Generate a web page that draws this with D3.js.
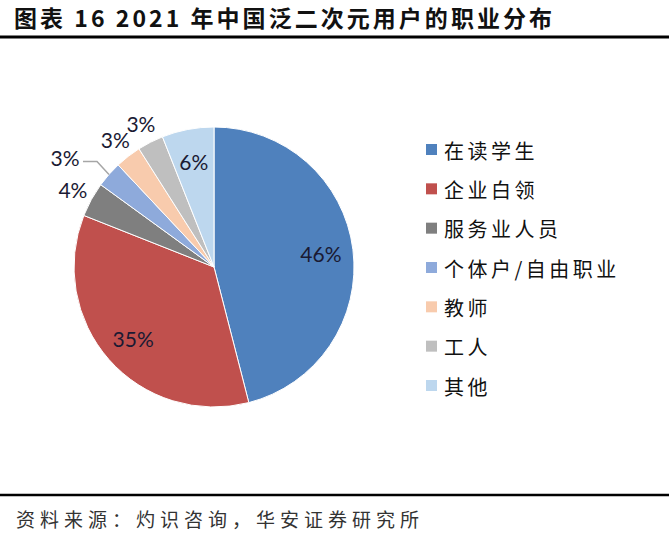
<!DOCTYPE html>
<html>
<head>
<meta charset="utf-8">
<script src="https://cdn.jsdelivr.net/npm/d3@7"></script>
<style>
  body { margin: 0; background: #fff; }
  svg { display: block; }
  .title { font-family: "Noto Sans CJK SC", sans-serif; font-weight: bold; font-size: 23px; fill: #111; }
  .source { font-family: "Noto Sans CJK SC", sans-serif; font-size: 19px; fill: #333; letter-spacing: 5px; }
  .legend-text { font-family: "Noto Sans CJK SC", sans-serif; font-size: 20px; fill: #111; letter-spacing: 3.5px; }
  .pct { font-family: "Lato", sans-serif; font-size: 21px; fill: #1a1a33; }
</style>
</head>
<body>
<div id="chart"></div>
<script>
'use strict';

let categories = ['在读学生', '企业白领', '服务业人员', '个体户/自由职业', '教师', '工人', '其他'];
let shares = [46, 35, 4, 3, 3, 3, 6];
let colors = ['#4f81bd', '#c0504d', '#7f7f7f', '#8eaadb', '#f8cbad', '#bfbfbf', '#bdd7ee'];
// where each label sits: inside the slice, outside, or outside with a leader line
let labelPlace = ['in', 'in', 'out', 'leader', 'out', 'out', 'in'];

let width = 669;
let height = 553;
let cx = 214, cy = 267, radius = 140;

let svg = d3.select('#chart').append('svg')
    .attr('width', width)
    .attr('height', height);

svg.append('text')
    .attr('class', 'title')
    .attr('x', 14)
    .attr('y', 27)
    .attr('textLength', 538)
    .attr('lengthAdjust', 'spacing')
    .text('图表 16 2021 年中国泛二次元用户的职业分布');

svg.append('line')
    .attr('x1', 0).attr('x2', width)
    .attr('y1', 37).attr('y2', 37)
    .attr('stroke', '#000').attr('stroke-width', 3);

svg.append('line')
    .attr('x1', 0).attr('x2', width)
    .attr('y1', 495).attr('y2', 495)
    .attr('stroke', '#000').attr('stroke-width', 2.5);

svg.append('text')
    .attr('class', 'source')
    .attr('x', 16)
    .attr('y', 527)
    .text('资料来源：灼识咨询，华安证券研究所');

let data = categories.map((c, i) => ({ name: c, value: shares[i], color: colors[i], place: labelPlace[i] }));

let pie = d3.pie()
    .value(d => d.value)
    .sort(null);

let arc = d3.arc().innerRadius(0).outerRadius(radius);
let inArc = d3.arc().innerRadius(radius * 0.77).outerRadius(radius * 0.77);
let outArc = d3.arc().innerRadius(radius * 1.15).outerRadius(radius * 1.15);
let edgeArc = d3.arc().innerRadius(radius).outerRadius(radius);

let g = svg.append('g')
    .attr('transform', `translate(${cx}, ${cy})`);

let arcs = pie(data);

g.selectAll('path')
    .data(arcs)
    .enter()
    .append('path')
    .attr('d', arc)
    .attr('fill', d => d.data.color)
    .attr('stroke', '#fff')
    .attr('stroke-width', 1);

// labels
arcs.forEach(function (d) {
    let pos;
    if (d.data.place === 'in') {
        pos = inArc.centroid(d);
    } else if (d.data.place === 'out') {
        pos = outArc.centroid(d);
    } else {
        let p0 = edgeArc.centroid(d);
        let p1 = [p0[0] - 12, p0[1] - 13];
        let p2 = [p1[0] - 14, p1[1]];
        g.append('polyline')
            .attr('points', [p0, p1, p2].map(p => p.join(',')).join(' '))
            .attr('fill', 'none')
            .attr('stroke', '#a6a6a6')
            .attr('stroke-width', 1.5);
        pos = [p2[0] - 18, p2[1] - 4];
    }
    g.append('text')
        .attr('class', 'pct')
        .attr('x', pos[0])
        .attr('y', pos[1])
        .attr('text-anchor', 'middle')
        .attr('dominant-baseline', 'central')
        .text(d.data.value + '%');
});

// legend
let legendY = d3.scalePoint()
    .domain(categories)
    .range([149, 385]);

let legend = svg.append('g')
    .selectAll('g')
    .data(data)
    .enter()
    .append('g')
    .attr('transform', d => `translate(426, ${legendY(d.name)})`);

legend.append('rect')
    .attr('x', 0)
    .attr('y', -5)
    .attr('width', 11)
    .attr('height', 11)
    .attr('fill', d => d.color);

legend.append('text')
    .attr('class', 'legend-text')
    .attr('x', 18)
    .attr('y', 1)
    .attr('dominant-baseline', 'central')
    .text(d => d.name);
</script>
</body>
</html>
